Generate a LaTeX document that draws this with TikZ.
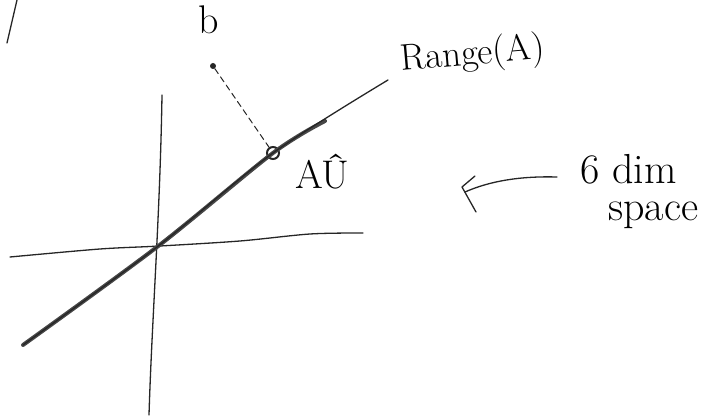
\documentclass[tikz,border=0pt]{standalone}
\usepackage{fontspec}
\usepackage{tikz}
\usetikzlibrary{positioning, arrows.meta, calc}

\begin{document}
\begin{tikzpicture}[
        x=1pt, y=1pt,
        pen/.style={
          draw=black!85,
          line width=1.3pt,
          line cap=round,
          line join=round
        },
        heavy/.style={
          draw=black!72,
          line width=4pt,
          line cap=round
        },
        handlabel/.style={
          inner sep=0pt,
          anchor=base west,
          font=\fontsize{40}{44}\selectfont
        },
        pointdot/.style={
          circle,
          fill=black!85,
          inner sep=0pt,
          minimum size=6pt
        },
        projmark/.style={
          circle,
          draw=black!85,
          line width=2pt,
          inner sep=0pt,
          minimum size=12pt
        }
      ]
        \useasboundingbox (0,0) rectangle (713,417);

        % stray stroke in the corner
        \draw[pen] (7,374) -- (17,417);

        % axes
        \coordinate (vtop) at (162,322);
        \coordinate (vbot) at (149,2);
        \coordinate (hleft) at (10,160);
        \coordinate (hright) at (363,184);
        \draw[pen] (vtop) .. controls (160,200) and (152,100) .. (vbot);
        \draw[pen] plot[smooth] coordinates {(hleft) (100,168) (160,171) (240,176) (310,183) (hright)};

        % range of A
        \coordinate (lo) at (23,72);
        \coordinate (origin) at (157,170);
        \coordinate (thickend) at (325,296);
        \coordinate (hi) at (388,337);
        \node[projmark] (proj) at (273,264) {};
        \draw[heavy] plot[smooth] coordinates {(lo) (origin) (proj.center) (thickend)};
        \draw[pen] plot[smooth] coordinates {(lo) (origin) (proj.center) (hi)};
        \node[handlabel, font=\fontsize{37}{40}\selectfont, rotate=5] (range) at (401,346) {Range(A)};

        % point b and its projection
        \node[pointdot] (bpt) at (213,351) {};
        \node[handlabel] (blabel) at (198,383) {b};
        \draw[pen, line width=1pt, dash pattern=on 6pt off 4pt] (bpt) -- (proj);
        \node[handlabel] (projlabel) at (295,228) {AÛ};

        % dimension note
        \node[handlabel, font=\fontsize{42}{46}\selectfont] (dimtext) at (580,233) {6 dim};
        \node[handlabel, font=\fontsize{42}{46}\selectfont] (spacetext) at (608,196) {space};
        \coordinate (tail) at (557,240);
        \coordinate (tip) at (462,230);
        \draw[pen] (tail) .. controls (520,241) and (490,236) .. (465,225);
        \draw[pen] (475,241) -- (tip) -- (476,205);
      \end{tikzpicture}
\end{document}
